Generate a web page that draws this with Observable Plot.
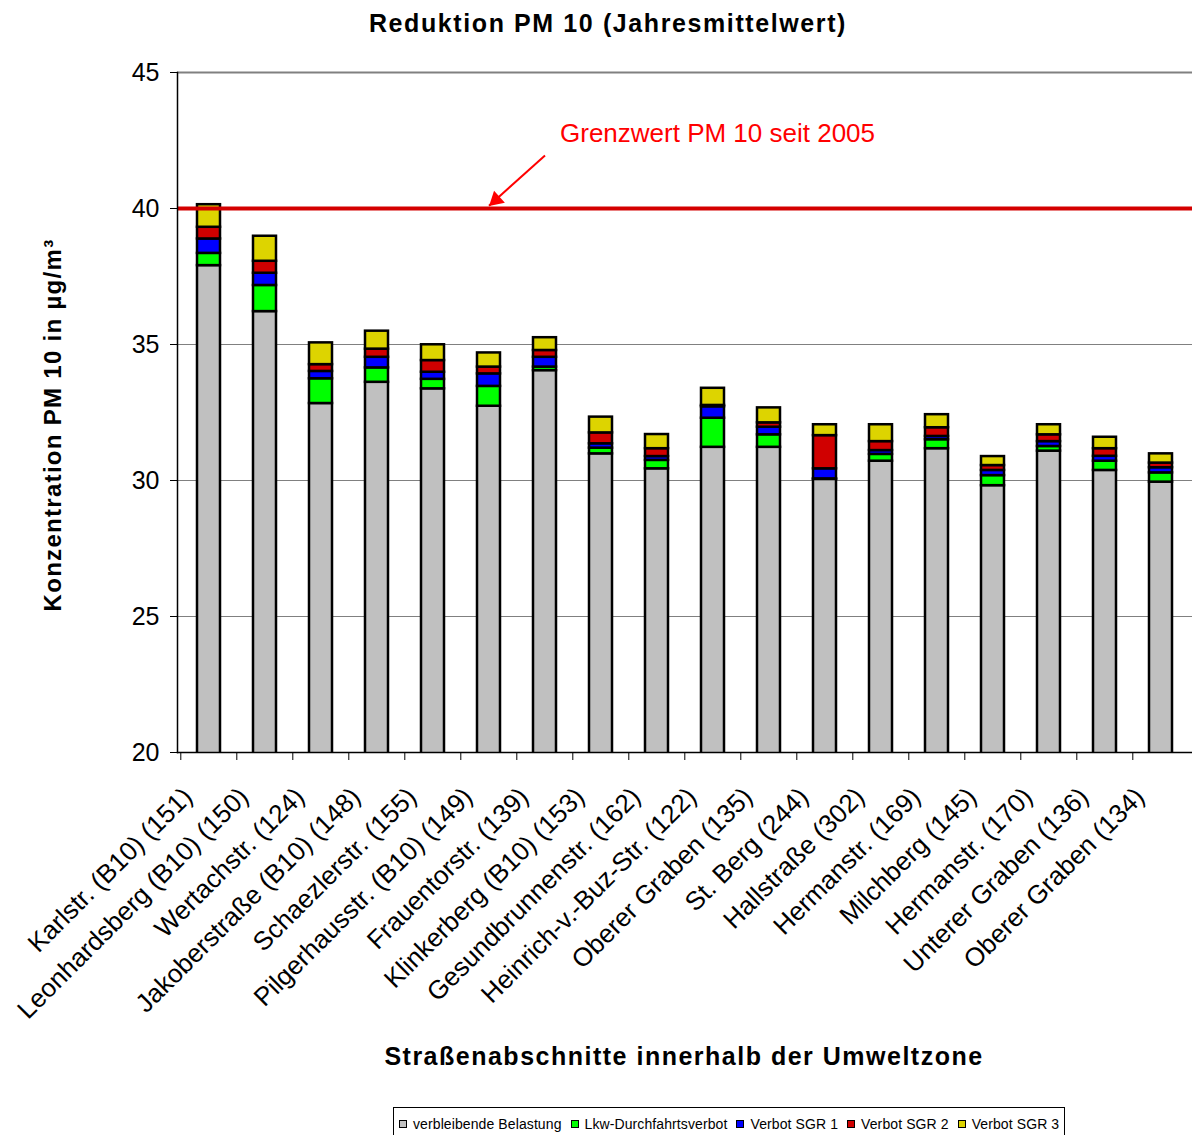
<!DOCTYPE html>
<html><head><meta charset="utf-8">
<script src="https://cdn.jsdelivr.net/npm/d3@7"></script>
<script src="https://cdn.jsdelivr.net/npm/@observablehq/plot@0.6"></script>
<style>
body{margin:0;background:#fff;font-family:"Liberation Sans",Arial,sans-serif}
#wrap{position:relative;width:1192px;height:1135px;overflow:hidden;background:#fff}
#chart{position:absolute;left:0;top:0}
.title{position:absolute;left:12px;top:11px;width:1192px;text-align:center;font-weight:bold;font-size:25px;letter-spacing:1.6px;line-height:1;color:#000}
.xtitle{position:absolute;left:88px;top:1044px;width:1192px;text-align:center;font-weight:bold;font-size:25px;letter-spacing:1.5px;line-height:1;color:#000}
.ytitle{position:absolute;left:53px;top:425px;transform:translate(-50%,-50%) rotate(-90deg);white-space:nowrap;font-weight:bold;font-size:24px;letter-spacing:1.3px;line-height:1;color:#000}
.legend{position:absolute;left:393px;top:1107px;width:672px;height:40px;border:1px solid #000;box-sizing:border-box;font-size:14px;letter-spacing:0.1px;color:#000;display:flex;align-items:flex-start;padding-top:8px;padding-left:5px;gap:0}
.legend .it{display:flex;align-items:center;margin-right:9px;white-space:nowrap}
.legend .sw{width:6px;height:6px;border:1.5px solid #000;margin-right:6px}
</style></head><body>
<div id="wrap">
<div id="chart"></div>
<div class="title" id="title"></div>
<div class="ytitle" id="ytitle"></div>
<div class="xtitle" id="xtitle"></div>
<div class="legend" id="legend"></div>
</div>
<script>
const chartTitle = "Reduktion PM 10 (Jahresmittelwert)";
const yTitle = "Konzentration PM 10 in µg/m³";
const xTitle = "Straßenabschnitte innerhalb der Umweltzone";

const categories = [
  "Karlstr. (B10) (151)", "Leonhardsberg (B10) (150)", "Wertachstr. (124)",
  "Jakoberstraße (B10) (148)", "Schaezlerstr. (155)", "Pilgerhausstr. (B10) (149)",
  "Frauentorstr. (139)", "Klinkerberg (B10) (153)", "Gesundbrunnenstr. (162)",
  "Heinrich-v.-Buz-Str. (122)", "Oberer Graben (135)", "St. Berg (244)",
  "Hallstraße (302)", "Hermanstr. (169)", "Milchberg (145)",
  "Hermanstr. (170)", "Unterer Graben (136)", "Oberer Graben (134)"
];
const seriesNames = ["verbleibende Belastung", "Lkw-Durchfahrtsverbot", "Verbot SGR 1", "Verbot SGR 2", "Verbot SGR 3"];
const seriesColors = ["#c0c0c0", "#00ff00", "#0000ff", "#d00000", "#ddd400"];

const remaining = [37.90, 36.21, 32.83, 33.61, 33.37, 32.73, 34.04, 30.98, 30.43, 31.22, 31.22, 30.04, 30.71, 31.17, 29.81, 31.08, 30.37, 29.94];
const truckBan  = [0.45, 0.96, 0.91, 0.53, 0.35, 0.73, 0.13, 0.21, 0.31, 1.07, 0.46, 0.02, 0.25, 0.33, 0.37, 0.17, 0.34, 0.34];
const sgr1      = [0.53, 0.45, 0.27, 0.39, 0.26, 0.46, 0.36, 0.16, 0.14, 0.42, 0.28, 0.37, 0.14, 0.12, 0.19, 0.18, 0.18, 0.19];
const sgr2      = [0.43, 0.44, 0.25, 0.30, 0.43, 0.25, 0.25, 0.40, 0.29, 0.05, 0.16, 1.22, 0.33, 0.32, 0.18, 0.25, 0.28, 0.17];
const sgr3      = [0.83, 0.92, 0.80, 0.66, 0.58, 0.52, 0.47, 0.58, 0.52, 0.63, 0.55, 0.40, 0.62, 0.48, 0.33, 0.37, 0.42, 0.34];

const yTicks = [20, 25, 30, 35, 40, 45];
const gridValues = [25, 30, 35, 45];
const limitValue = 40;
const limitText = "Grenzwert PM 10 seit 2005";
const limitArrow = [{x1: "Frauentorstr. (139)", y1: 41.95, x2: "Pilgerhausstr. (B10) (149)", y2: 40.1}];
const limitLabel = [{x: "Frauentorstr. (139)", y: 42.75, text: limitText}];

const seriesValues = [remaining, truckBan, sgr1, sgr2, sgr3];
const data = [];
categories.forEach((c, i) => seriesValues.forEach((vals, j) => data.push({cat: c, series: seriesNames[j], value: vals[i]})));

const font = "'Liberation Sans', Arial, sans-serif";
const plot = Plot.plot({
  width: 1192, height: 1135,
  marginTop: 72, marginRight: 0, marginBottom: 383, marginLeft: 177,
  style: {fontFamily: font, background: "transparent", color: "#000"},
  x: {domain: categories, paddingInner: 0.59, paddingOuter: 0.295, label: null},
  y: {domain: [20, 45], label: null},
  color: {domain: seriesNames, range: seriesColors},
  marks: [
    Plot.ruleY(gridValues, {stroke: "#808080", strokeWidth: d => d === 45 ? 2 : 1}),
    Plot.barY(data, {x: "cat", y: "value", fill: "series", stroke: "#000", strokeWidth: 2.5, clip: true}),
    Plot.ruleY([limitValue], {stroke: "#d40000", strokeWidth: 4}),
    Plot.frame({anchor: "left", stroke: "#000", strokeWidth: 1.5}),
    Plot.frame({anchor: "bottom", stroke: "#000", strokeWidth: 1.5}),
    Plot.axisY({ticks: yTicks, tickSize: 7, tickPadding: 11, fontSize: 25, label: null, tickFormat: d => String(d)}),
    Plot.axisX({tickSize: 8, tickFormat: () => "", dx: -28.2, label: null}),
    Plot.axisX({tickSize: 0, tickRotate: -45, tickPadding: 40, dx: -21, fontSize: 26, label: null}),
    Plot.link(limitArrow, {x1: "x1", y1: "y1", x2: "x2", y2: "y2", stroke: "#ff0000", strokeWidth: 2}),
    Plot.dot(limitArrow, {x: "x2", y: "y2", symbol: "triangle", r: 6, fill: "#ff0000", stroke: "none", rotate: 228, dx: 7, dy: -6}),
    Plot.text(limitLabel, {x: "x", y: "y", text: "text", textAnchor: "start", dx: 15, fill: "#ff0000", fontSize: 26})
  ]
});
document.getElementById("chart").appendChild(plot);
document.getElementById("title").textContent = chartTitle;
document.getElementById("ytitle").textContent = yTitle;
document.getElementById("xtitle").textContent = xTitle;
const lg = document.getElementById("legend");
seriesNames.forEach((s, j) => {
  const it = document.createElement("div"); it.className = "it";
  const sw = document.createElement("div"); sw.className = "sw"; sw.style.background = seriesColors[j];
  const tx = document.createElement("span"); tx.textContent = s;
  it.appendChild(sw); it.appendChild(tx); lg.appendChild(it);
});
</script>
</body></html>
